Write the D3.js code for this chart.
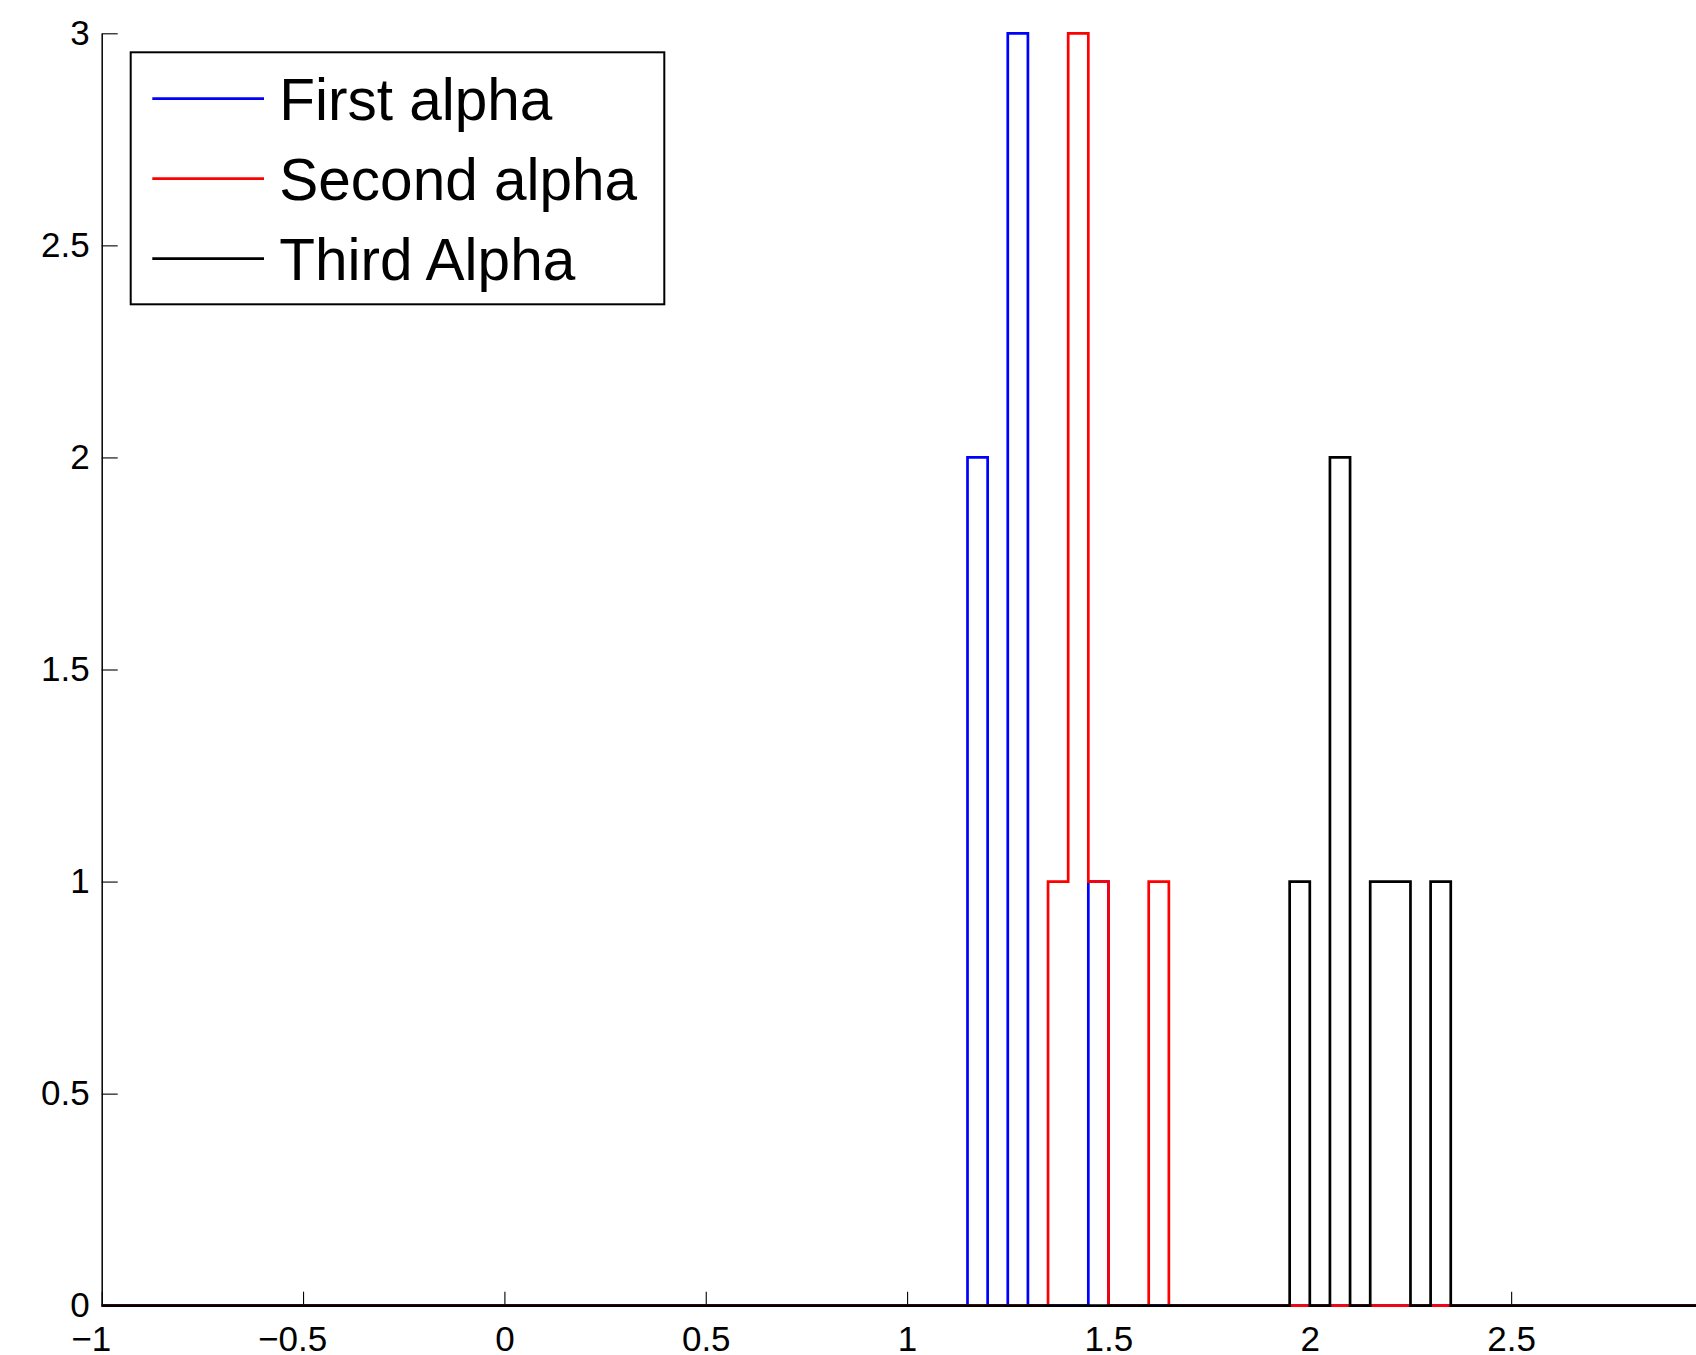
<!DOCTYPE html>
<html>
<head>
<meta charset="utf-8">
<script src="https://cdn.jsdelivr.net/npm/d3@7"></script>
<style>
  html, body { margin: 0; padding: 0; background: #fff; }
  svg { display: block; }
  .tick text { font-family: "Liberation Sans", Arial, Helvetica, sans-serif; font-size: 35px; fill: #000; }
  .legend-label { font-family: "Liberation Sans", Arial, Helvetica, sans-serif; font-size: 58.5px; fill: #000; }
</style>
</head>
<body>
<div id="chart"></div>
<script>
/* === Stair histogram of three alpha estimates === */

// bin width of the histogram
var BIN_WIDTH = 0.05;

// left edges of the non-empty bins and their counts
var firstEdges = [1.15, 1.25, 1.45];
var firstCounts = [2, 3, 1];

var secondEdges = [1.35, 1.40, 1.45, 1.60];
var secondCounts = [1, 3, 1, 1];

var thirdEdges = [1.95, 2.05, 2.15, 2.20, 2.30];
var thirdCounts = [1, 2, 1, 1, 1];

var seriesNames = ['First alpha', 'Second alpha', 'Third Alpha'];
var seriesColors = ['#0000ff', '#ff0000', '#000000'];

var xDomain = [-1, 3];
var yDomain = [0, 3];
var xTicks = [-1, -0.5, 0, 0.5, 1, 1.5, 2, 2.5, 3];
var yTicks = [0, 0.5, 1, 1.5, 2, 2.5, 3];

var width = 1696;
var height = 1355;

var x = d3.scaleLinear().domain(xDomain).range([101.7, 1712.5]);
var y = d3.scaleLinear().domain(yDomain).range([1305.7, 33.3]);

var svg = d3.select('#chart')
    .append('svg')
    .attr('width', width)
    .attr('height', height);

// turn bins into stair points (curveStepAfter)
function stairPoints(edges, counts) {
    var pts = [[xDomain[0], 0]];
    edges.forEach(function(e, i) {
        pts.push([e, counts[i]]);
        var next = edges[i + 1];
        if (next === undefined || Math.abs(next - (e + BIN_WIDTH)) > 1e-9) {
            pts.push([e + BIN_WIDTH, 0]);
        }
    });
    pts.push([xDomain[1], 0]);
    return pts;
}

var series = [
    { edges: firstEdges, counts: firstCounts },
    { edges: secondEdges, counts: secondCounts },
    { edges: thirdEdges, counts: thirdCounts }
];

var line = d3.line()
    .x(function(d) { return x(d[0]); })
    .y(function(d) { return y(d[1]); })
    .curve(d3.curveStepAfter);

var fmt = d3.format('~g');

// Y axis (ticks pointing inward)
var yAxis = svg.append('g')
    .attr('transform', 'translate(' + x(xDomain[0]) + ',0)')
    .call(d3.axisLeft(y)
        .tickValues(yTicks)
        .tickFormat(fmt)
        .tickSizeInner(-16)
        .tickSizeOuter(0)
        .tickPadding(12));
yAxis.select('.domain').attr('stroke', '#000').attr('stroke-width', 1.5);
yAxis.selectAll('.tick line').attr('stroke', '#000').attr('stroke-width', 1.1);

// X axis (ticks pointing inward)
var xAxis = svg.append('g')
    .attr('transform', 'translate(0,' + y(0) + ')')
    .call(d3.axisBottom(x)
        .tickValues(xTicks)
        .tickFormat(fmt)
        .tickSizeInner(-14)
        .tickSizeOuter(0)
        .tickPadding(20));
xAxis.select('.domain').attr('stroke', '#000').attr('stroke-width', 1.5);
xAxis.selectAll('.tick line').attr('stroke', '#000').attr('stroke-width', 1.1);
xAxis.selectAll('.tick text')
    .attr('dx', function(d) { return d < 0 ? -11 : 0; });

// stairs, drawn blue, red, black
svg.append('g')
    .selectAll('path')
    .data(series)
    .join('path')
    .attr('d', function(d) { return line(stairPoints(d.edges, d.counts)); })
    .attr('fill', 'none')
    .attr('stroke', function(d, i) { return seriesColors[i]; })
    .attr('stroke-width', 2.7)
    .attr('stroke-linejoin', 'miter');

// Legend
var legend = svg.append('g');
legend.append('rect')
    .attr('x', 130.7)
    .attr('y', 52.3)
    .attr('width', 533.6)
    .attr('height', 252)
    .attr('fill', '#fff')
    .attr('stroke', '#000')
    .attr('stroke-width', 2);

var item = legend.selectAll('g.item')
    .data(seriesNames)
    .join('g')
    .attr('class', 'item')
    .attr('transform', function(d, i) { return 'translate(0,' + (98.7 + i * 80) + ')'; });

item.append('line')
    .attr('x1', 152.3)
    .attr('x2', 264)
    .attr('stroke', function(d, i) { return seriesColors[i]; })
    .attr('stroke-width', 2.7);

item.append('text')
    .attr('class', 'legend-label')
    .attr('x', 279.3)
    .attr('y', 21.5)
    .text(function(d) { return d; });
</script>
</body>
</html>
